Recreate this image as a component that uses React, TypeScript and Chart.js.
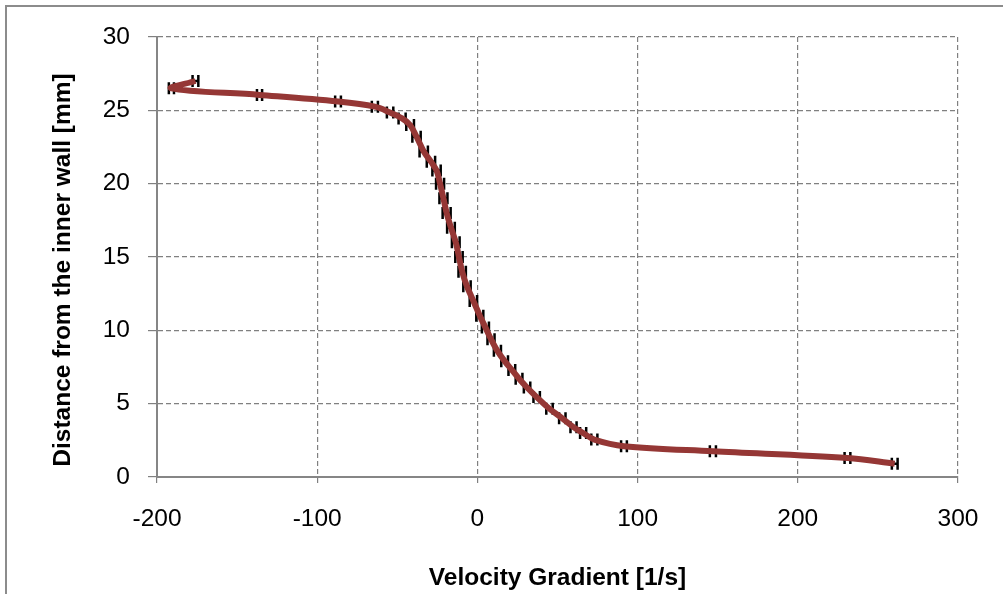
import React, { useEffect, useRef } from "react";
import { Chart, registerables } from "chart.js";

Chart.register(...registerables);

// ---- data ----
const velocityGradient = [
  -176, -191, -136, -87, -64, -54.5, -47, -42, -38, -33.5,
  -29, -25.5, -23.3, -21.2, -19.2, -16.5, -13.5, -11.5, -9.5, -6.5,
  -2.5, 1.5, 5, 8.5, 12.5, 17, 21.5, 26, 31, 37,
  45, 53, 60, 66, 73, 91.5, 147, 231, 260.5,
];
const distance = [
  27.0, 26.5, 26.05, 25.6, 25.25, 24.85, 24.45, 24.0, 23.2, 22.2,
  21.5, 20.9, 20.0, 19.0, 18.0, 17.0, 16.0, 15.0, 14.0, 13.0,
  12.0, 11.0, 10.2, 9.4, 8.6, 7.9, 7.3, 6.7, 6.1, 5.45,
  4.65, 4.0, 3.4, 3.0, 2.55, 2.1, 1.75, 1.3, 0.9,
];
const gradientError = [
  1.8, 1.6, 1.6, 1.8, 1.9, 2.0, 2.2, 2.4, 2.6, 2.6,
  2.6, 2.6, 2.5, 2.5, 2.5, 2.4, 2.4, 2.3, 2.3, 2.3,
  2.3, 2.2, 2.2, 2.2, 2.2, 2.1, 2.1, 2.1, 2.0, 2.0,
  2.0, 2.0, 1.9, 1.9, 1.9, 1.8, 1.9, 1.8, 1.8,
];
const xTickValues = [-200, -100, 0, 100, 200, 300];
const yTickValues = [0, 5, 10, 15, 20, 25, 30];
const xTitle = "Velocity Gradient [1/s]";
const yTitle = "Distance from the inner wall [mm]";

const FONT = '"Liberation Sans", Arial, sans-serif';
const GRID = "#808080";
const LINE = "#953735";

const errorBarPlugin = {
  id: "errorBars",
  beforeDatasetsDraw(chart: any) {
    const { ctx, scales } = chart;
    const xs = scales.x;
    const ys = scales.y;
    ctx.save();
    ctx.strokeStyle = "#000000";
    ctx.lineWidth = 2.5;
    velocityGradient.forEach((v, i) => {
      const py = ys.getPixelForValue(distance[i]);
      const x1 = xs.getPixelForValue(v - gradientError[i]);
      const x2 = xs.getPixelForValue(v + gradientError[i]);
      ctx.beginPath();
      ctx.moveTo(x1, py);
      ctx.lineTo(x2, py);
      ctx.moveTo(x1, py - 6);
      ctx.lineTo(x1, py + 6);
      ctx.moveTo(x2, py - 6);
      ctx.lineTo(x2, py + 6);
      ctx.stroke();
    });
    ctx.restore();
  },
};

const framePlugin = {
  id: "frameAndYTitle",
  afterDraw(chart: any) {
    const { ctx } = chart;
    ctx.save();
    ctx.strokeStyle = "#8c8c8c";
    ctx.lineWidth = 2;
    ctx.strokeRect(6, 6, 1020, 620);
    ctx.translate(63, 270);
    ctx.rotate(-Math.PI / 2);
    ctx.fillStyle = "#000000";
    ctx.font = `bold 24.5px ${FONT}`;
    ctx.textAlign = "center";
    ctx.textBaseline = "middle";
    ctx.fillText(yTitle, 0, 0);
    ctx.restore();
  },
};

export default function App() {
  const ref = useRef<HTMLCanvasElement | null>(null);

  useEffect(() => {
    if (!ref.current) return;
    const chart = new Chart(ref.current, {
      type: "line",
      data: {
        datasets: [
          {
            data: velocityGradient.map((v, i) => ({ x: v, y: distance[i] })),
            borderColor: LINE,
            backgroundColor: LINE,
            borderWidth: 6,
            pointRadius: 0,
            tension: 0.35,
            fill: false,
          },
        ],
      },
      options: {
        responsive: false,
        animation: false,
        layout: { padding: { left: 0, top: 37, right: 45, bottom: 0 } },
        plugins: {
          legend: { display: false },
          tooltip: { enabled: false },
        },
        scales: {
          x: {
            type: "linear",
            min: xTickValues[0],
            max: xTickValues[xTickValues.length - 1],
            afterBuildTicks: (s: any) => {
              s.ticks = xTickValues.map((v) => ({ value: v }));
            },
            afterFit: (s: any) => {
              s.height = 117;
            },
            ticks: {
              color: "#000000",
              font: { family: FONT, size: 24.5 },
              padding: 21,
              maxRotation: 0,
              callback: (v: any) => String(v),
            },
            grid: {
              color: GRID,
              lineWidth: 1.2,
              tickLength: 7,
              tickColor: GRID,
              tickBorderDash: [5, 3],
            } as any,
            border: { display: true, color: "#868686", width: 2, dash: [5, 3] } as any,
            title: {
              display: true,
              text: xTitle,
              color: "#000000",
              font: { family: FONT, size: 24.5, weight: "bold" },
              padding: { top: 0, bottom: 1 },
            },
          },
          y: {
            type: "linear",
            min: yTickValues[0],
            max: yTickValues[yTickValues.length - 1],
            afterBuildTicks: (s: any) => {
              s.ticks = yTickValues.map((v) => ({ value: v }));
            },
            afterFit: (s: any) => {
              s.width = 157;
            },
            ticks: {
              color: "#000000",
              font: { family: FONT, size: 24.5 },
              padding: 18,
              callback: (v: any) => String(v),
            },
            grid: {
              color: GRID,
              lineWidth: 1.2,
              tickLength: 9,
              tickColor: GRID,
              tickBorderDash: [],
            } as any,
            border: { display: true, color: "#868686", width: 2, dash: [5, 3] } as any,
            title: { display: false },
          },
        },
      },
      plugins: [errorBarPlugin, framePlugin],
    } as any);
    return () => chart.destroy();
  }, []);

  return (
    <div style={{ position: "fixed", left: 0, top: 0, width: 1003, height: 594, background: "#ffffff" }}>
      <canvas ref={ref} width={1003} height={594} style={{ display: "block" }} />
    </div>
  );
}
